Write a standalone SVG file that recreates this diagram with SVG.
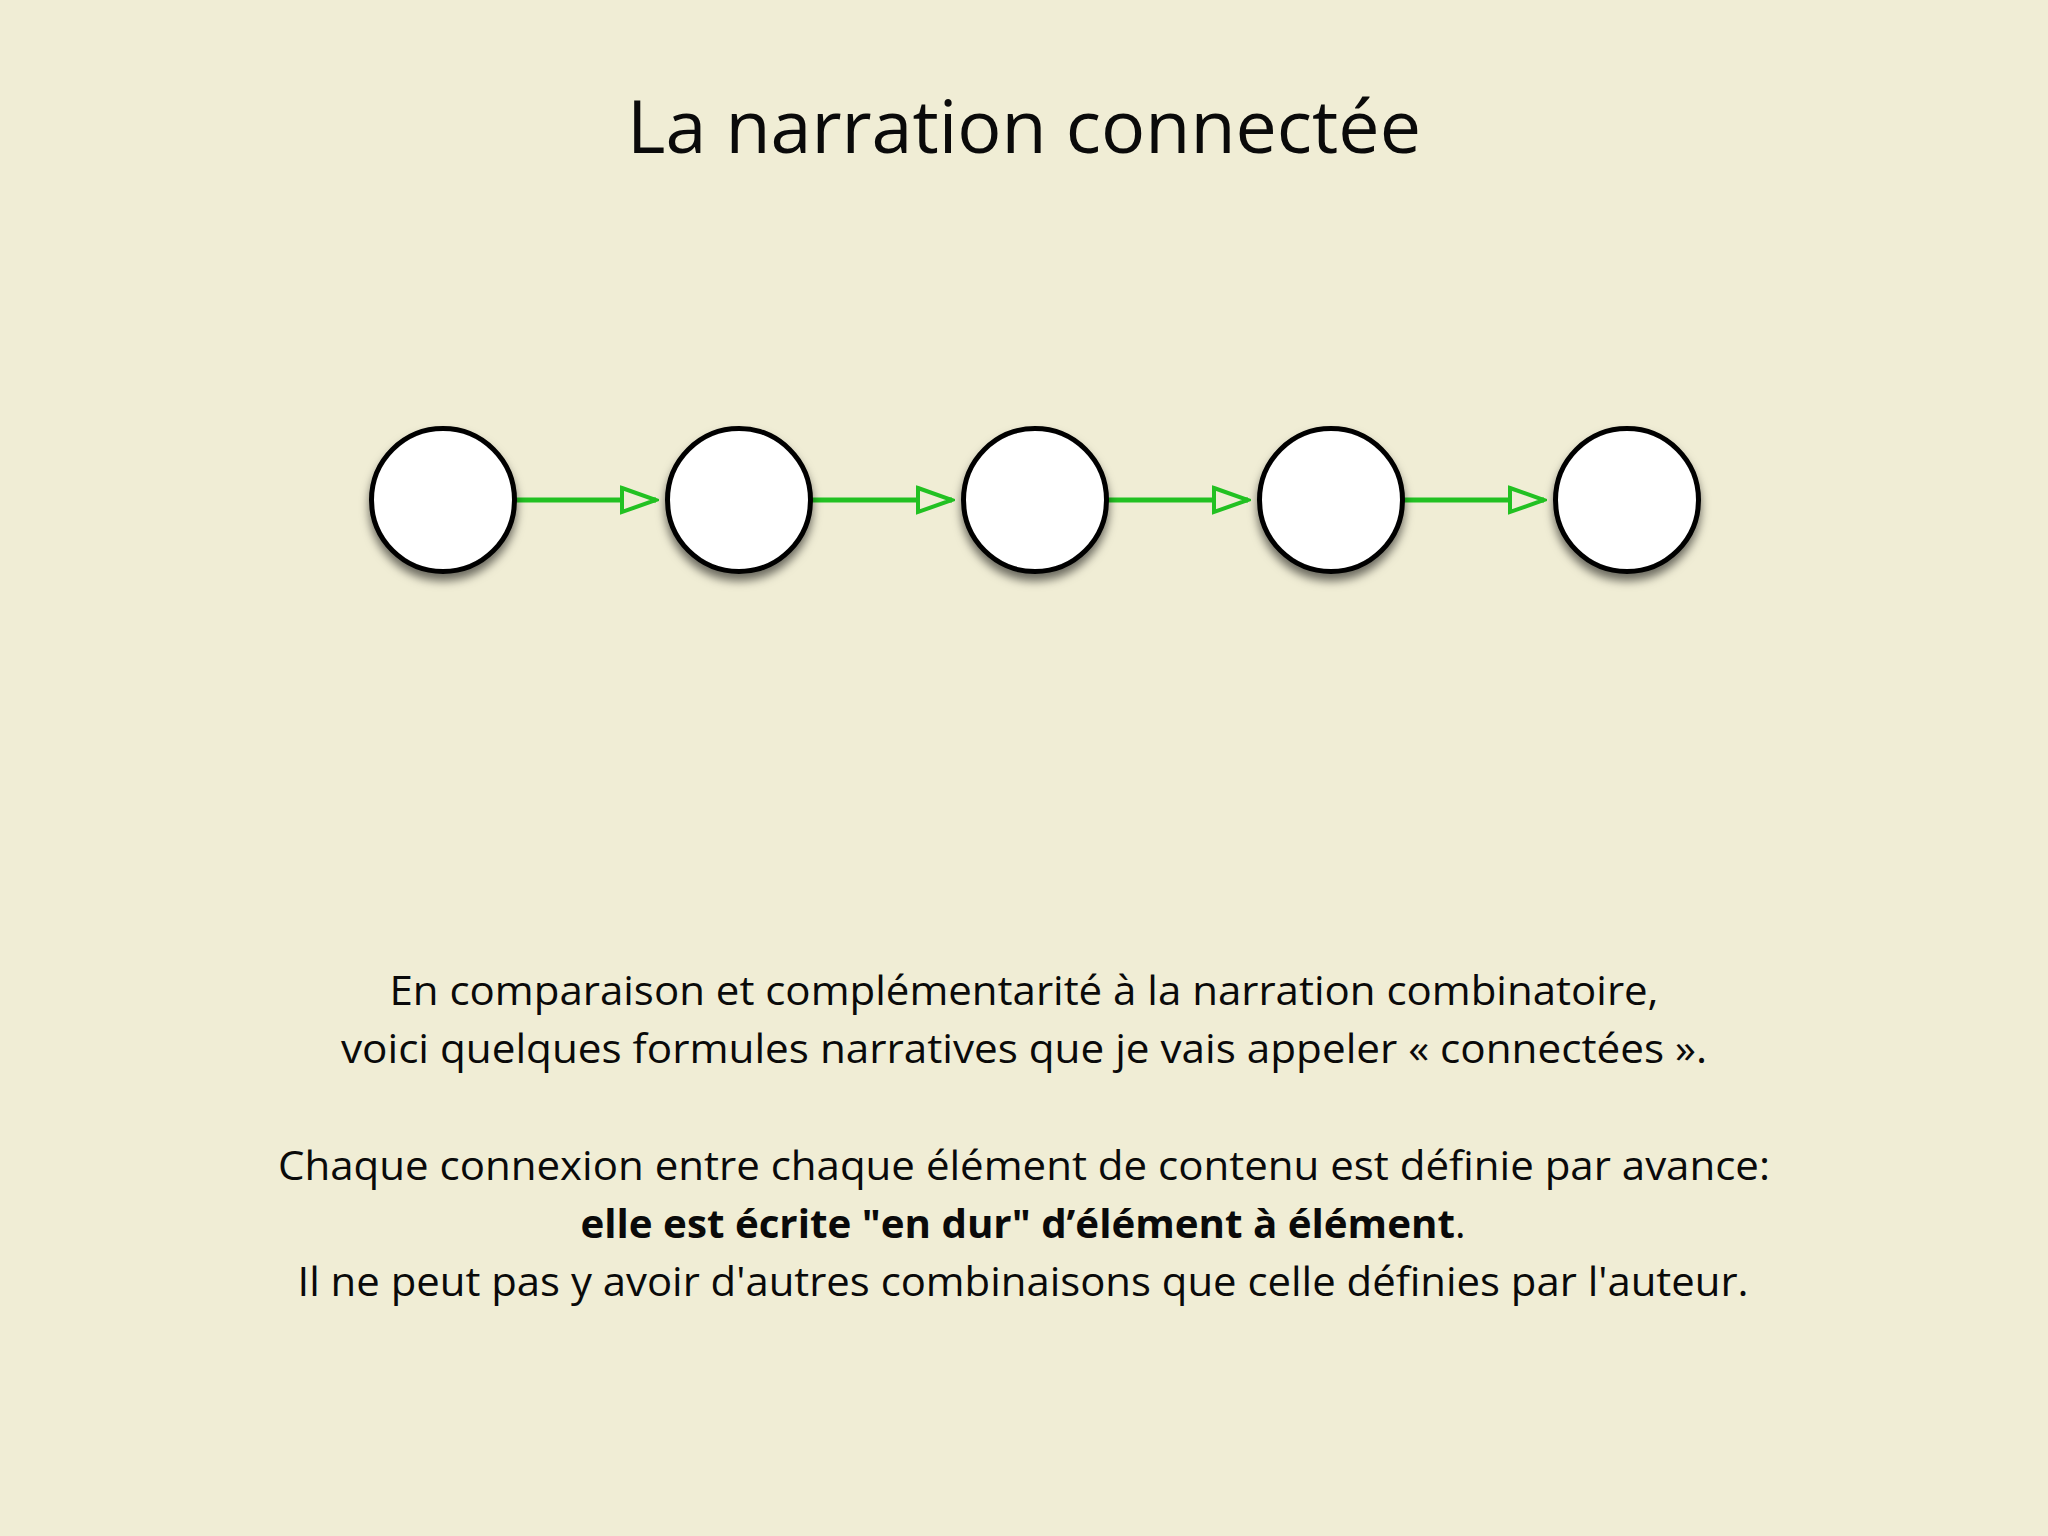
<svg xmlns="http://www.w3.org/2000/svg" width="2048" height="1536" viewBox="0 0 2048 1536">
  <defs>
    <filter id="shadow" x="-30%" y="-30%" width="160%" height="170%">
      <feDropShadow dx="0" dy="7" stdDeviation="5" flood-color="#000" flood-opacity="0.55"/>
    </filter>
    <marker id="arrow" viewBox="0 0 40 30" markerWidth="40" markerHeight="30" refX="37" refY="15" orient="auto" markerUnits="userSpaceOnUse">
      <path d="M3,3 L37,15 L3,27 Z" fill="#f0edd5" stroke="#22c122" stroke-width="4"/>
    </marker>
  </defs>
  <style>
    .node { fill: #ffffff; stroke: #050505; stroke-width: 5; filter: url(#shadow); }
    .edge { stroke: #22c122; stroke-width: 5; fill: none; marker-end: url(#arrow); }
    .txt { font-family: "Open Sans", "Liberation Sans", sans-serif; fill: #0a0a0a; text-anchor: middle; }
    .title { font-size: 73px; }
    .body { font-size: 40px; }
  </style>
  <rect x="0" y="0" width="2048" height="1536" fill="#f0edd5"/>

  <g id="title">
    <text class="txt title" x="1024" y="153" textLength="794" lengthAdjust="spacingAndGlyphs">La narration connectée</text>
  </g>

  <g id="connectors">
    <line class="edge" x1="515" y1="500" x2="656" y2="500"/>
    <line class="edge" x1="811" y1="500" x2="952" y2="500"/>
    <line class="edge" x1="1107" y1="500" x2="1248" y2="500"/>
    <line class="edge" x1="1403" y1="500" x2="1544" y2="500"/>
  </g>

  <g id="node1"><circle class="node" cx="443" cy="500" r="71.5"/></g>
  <g id="node2"><circle class="node" cx="739" cy="500" r="71.5"/></g>
  <g id="node3"><circle class="node" cx="1035" cy="500" r="71.5"/></g>
  <g id="node4"><circle class="node" cx="1331" cy="500" r="71.5"/></g>
  <g id="node5"><circle class="node" cx="1627" cy="500" r="71.5"/></g>

  <g id="description">
    <text class="txt body" x="1024" y="1005" textLength="1269" lengthAdjust="spacingAndGlyphs">En comparaison et complémentarité à la narration combinatoire,</text>
    <text class="txt body" x="1024" y="1063" textLength="1366" lengthAdjust="spacingAndGlyphs">voici quelques formules narratives que je vais appeler « connectées ».</text>
    <text class="txt body" x="1024" y="1180" textLength="1492" lengthAdjust="spacingAndGlyphs">Chaque connexion entre chaque élément de contenu est définie par avance:</text>
    <text class="txt body" x="1023" y="1238" textLength="885" lengthAdjust="spacingAndGlyphs"><tspan font-weight="bold">elle est écrite "en dur" d’élément à élément</tspan>.</text>
    <text class="txt body" x="1023" y="1296" textLength="1451" lengthAdjust="spacingAndGlyphs">Il ne peut pas y avoir d'autres combinaisons que celle définies par l'auteur.</text>
  </g>
</svg>
